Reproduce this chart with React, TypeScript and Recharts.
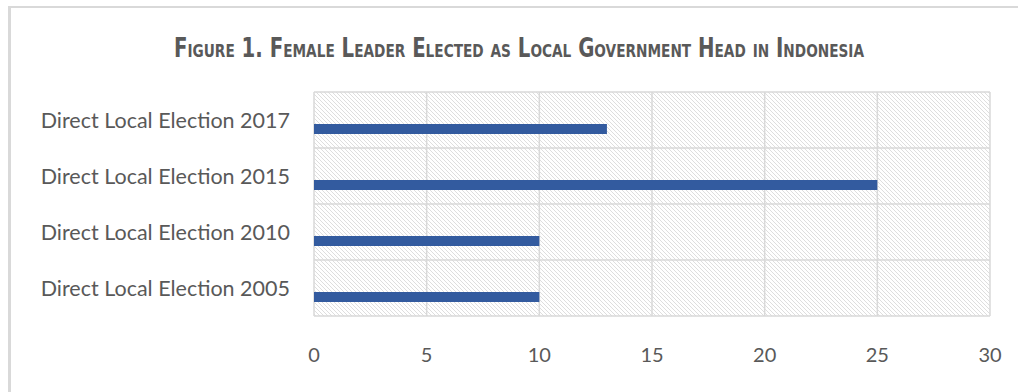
import { BarChart, Bar, XAxis, YAxis, CartesianGrid } from 'recharts'

const categories = [
  'Direct Local Election 2017',
  'Direct Local Election 2015',
  'Direct Local Election 2010',
  'Direct Local Election 2005',
]
const femaleLeaders = [13, 25, 10, 10]
const xTicks = [0, 5, 10, 15, 20, 25, 30]

const data = categories.map((name, i) => ({ name, value: femaleLeaders[i] }))

const yTickStyle = { fill: '#595959', fontSize: 21.5, fontFamily: 'Lato' }
const xTickStyle = { fill: '#595959', fontSize: 20, fontFamily: 'Lato' }

export default function App() {
  return (
    <div style={{ position: 'absolute', left: 0, top: 0, width: 1018, height: 392, background: '#fff', overflow: 'hidden' }}>
      <svg width={0} height={0} style={{ position: 'absolute' }}>
        <defs>
          <pattern id="hatch" patternUnits="userSpaceOnUse" width={4} height={4}>
            <path d="M-1,-1 L5,5 M-1,3 L1,5 M3,-1 L5,1" stroke="#dedede" strokeWidth={1} />
          </pattern>
        </defs>
      </svg>
      {/* chart frame, cropped on the right and bottom */}
      <div
        style={{
          position: 'absolute', left: 8, top: 6, width: 1010, height: 386,
          borderTop: '2px solid #d9d9d9', borderLeft: '3px solid #d9d9d9',
        }}
      />
      <svg width={1018} height={80} style={{ position: 'absolute', left: 0, top: 0 }}>
        <text
          x={519}
          y={57}
          textAnchor="middle"
          textLength={690}
          lengthAdjust="spacingAndGlyphs"
          fill="#595959"
          fontFamily="DejaVu Sans Condensed"
          fontWeight="bold"
          fontSize={26}
          style={{ fontVariant: 'small-caps' }}
        >
          Figure 1. Female Leader Elected as Local Government Head in Indonesia
        </text>
      </svg>
      <div style={{ position: 'absolute', left: 0, top: 0 }}>
        <BarChart
          layout="vertical"
          width={1018}
          height={392}
          data={data}
          margin={{ top: 92, right: 28, bottom: 16, left: 0 }}
          barSize={10}
          barGap={8}
        >
          <CartesianGrid
            stroke="#d9d9d9"
            strokeWidth={1.5}
            fill="url(#hatch)"
            fillOpacity={1}
            horizontalCoordinatesGenerator={({ offset }: any) =>
              Array.from({ length: categories.length + 1 }, (_, i) => offset.top + (i * offset.height) / categories.length)
            }
          />
          <XAxis
            type="number"
            domain={[0, 30]}
            ticks={xTicks}
            interval={0}
            axisLine={false}
            tickLine={false}
            tickSize={0}
            tickMargin={32}
            height={60}
            tick={xTickStyle}
          />
          <YAxis
            type="category"
            dataKey="name"
            width={314}
            axisLine={false}
            tickLine={false}
            tickSize={0}
            tickMargin={24}
            tick={yTickStyle}
          />
          {/* empty series slot, as in the source chart, pushes the bar below the band centre */}
          <Bar dataKey="spacer" fill="none" isAnimationActive={false} />
          <Bar dataKey="value" fill="#335b9f" isAnimationActive={false} />
        </BarChart>
      </div>
    </div>
  )
}
